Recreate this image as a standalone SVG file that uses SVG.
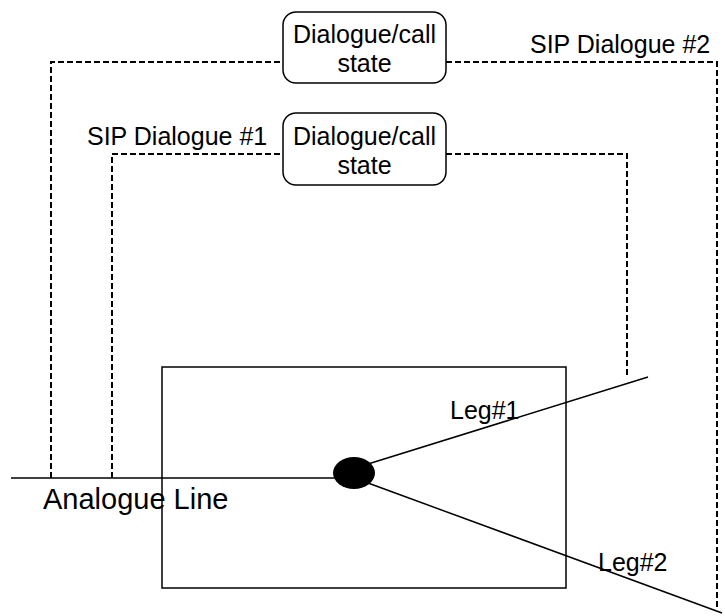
<svg xmlns="http://www.w3.org/2000/svg" width="725" height="616" viewBox="0 0 725 616">
  <style>
    text { font-family: "Liberation Sans", Arial, sans-serif; font-size: 25px; fill: #000; }
    .mid { text-anchor: middle; }
    .dash { fill: none; stroke: #000; stroke-width: 2; stroke-dasharray: 6 3; }
    .solid { fill: none; stroke: #000; stroke-width: 1.5; }
    .node { fill: #fff; stroke: #000; stroke-width: 1.5; }
  </style>
  <rect width="725" height="616" fill="#fff"/>

  <!-- dialogue paths -->
  <g id="connectors">
    <path class="dash" d="M51,478 V62 H283"/>
    <path class="dash" d="M446,62 H717 V610"/>
    <path class="dash" d="M112,478 V154 H283"/>
    <path class="dash" d="M446,154 H627 V377"/>
    <line class="solid" x1="11" y1="478" x2="336" y2="478"/>
    <line class="solid" x1="368" y1="464" x2="648" y2="377"/>
    <line class="solid" x1="368" y1="483" x2="722" y2="613"/>
  </g>

  <g id="gateway">
    <rect class="solid" x="162" y="367" width="404" height="221"/>
  </g>

  <g id="junction">
    <ellipse cx="354" cy="473" rx="21" ry="16" fill="#000"/>
  </g>

  <g id="state2">
    <rect class="node" x="283" y="12" width="163" height="71" rx="13"/>
    <text class="mid" x="364.5" y="43">Dialogue/call</text>
    <text class="mid" x="364.5" y="72">state</text>
  </g>

  <g id="state1">
    <rect class="node" x="283" y="113" width="163" height="72" rx="13"/>
    <text class="mid" x="364.5" y="145">Dialogue/call</text>
    <text class="mid" x="364.5" y="174">state</text>
  </g>

  <g id="labels">
    <text x="530" y="53">SIP Dialogue #2</text>
    <text x="87" y="145">SIP Dialogue #1</text>
    <text x="450" y="419">Leg#1</text>
    <text x="598" y="571">Leg#2</text>
    <text x="43" y="509" style="font-size:29px">Analogue Line</text>
  </g>
</svg>
